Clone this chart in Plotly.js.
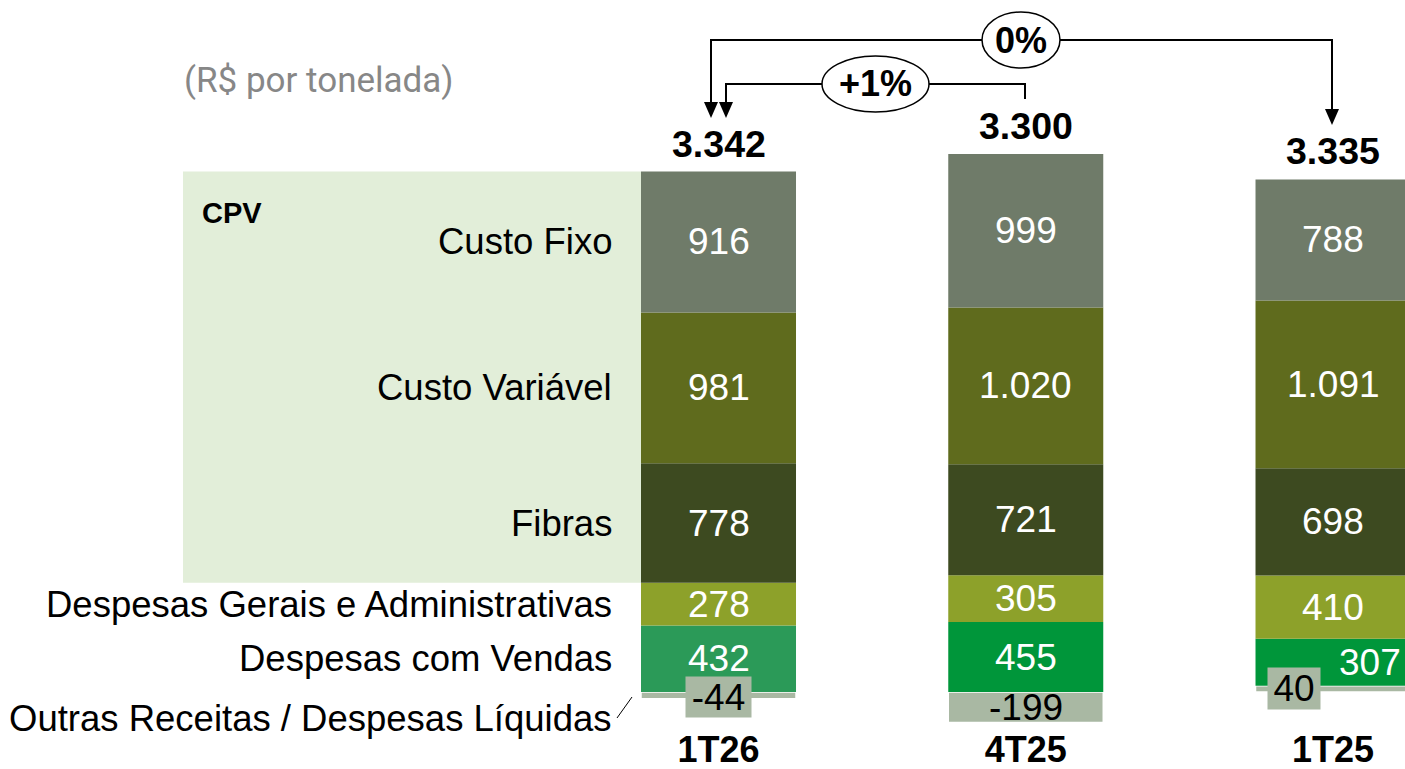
<!DOCTYPE html>
<html>
<head>
<meta charset="utf-8">
<script src="https://cdn.plot.ly/plotly-3.0.1.min.js"></script>
<style>html,body{margin:0;padding:0;background:#fff;} #chart{width:1405px;height:769px;}</style>
</head>
<body>
<div id="chart"></div>
<script>
// ---- data ----
const categories = ['1T26', '4T25', '1T25'];
const outras   = [-44, -199, 40];
const vendas   = [432, 455, 307];
const gerais   = [278, 305, 410];
const fibras   = [778, 721, 698];
const variavel = [981, 1020, 1091];
const fixo     = [916, 999, 788];
const totals   = [3342, 3300, 3335];
const seriesNames = ['Outras Receitas / Despesas Líquidas', 'Despesas com Vendas',
  'Despesas Gerais e Administrativas', 'Fibras', 'Custo Variável', 'Custo Fixo'];
const unitLabel = '(R$ por tonelada)';
const groupLabel = 'CPV';
const variations = [
  {from: 1, to: 0, text: '+1%'},
  {from: 2, to: 0, text: '0%'}
];

// ---- style ----
const W = 1405, H = 769, MB = 44, PH = H - MB;
const FONT = 'Liberation Sans, Arial, sans-serif';
const seriesValues = [outras, vendas, gerais, fibras, variavel, fixo];
const seriesColors = ['#a9b8a3', ['#2b9a58', '#00963a', '#00963a'], '#8da12a', '#3d4a20', '#5f6b1d', '#6f7b69'];
const labelShift = {'1,2': 37, '0,2': -39};
const boxSize = {'0,0': [65, 40, -2], '0,2': [52, 41, 0]};
const X = px => px / W;
const Y = py => 1 - py / PH;

function fmt(n) {
  const s = Math.abs(n).toString().replace(/\B(?=(\d{3})+(?!\d))/g, '.');
  return (n < 0 ? '-' : '') + s;
}

const traces = seriesValues.map((vals, i) => ({
  type: 'bar', x: categories, y: vals, name: seriesNames[i],
  marker: {color: seriesColors[i], line: {color: '#ffffff', width: i === 0 ? 1.5 : 0}},
  hoverinfo: 'skip', showlegend: false
}));

const annotations = [];
const posTop = categories.map(() => 0), negBot = categories.map(() => 0);
const centers = seriesValues.map(() => []);
seriesValues.forEach((vals, i) => {
  vals.forEach((v, j) => {
    let c;
    if (v >= 0) { c = posTop[j] + v / 2; posTop[j] += v; }
    else { c = negBot[j] + v / 2; negBot[j] += v; }
    centers[i][j] = c;
    const key = i + ',' + j;
    const box = boxSize[key];
    const a = {
      x: j, y: c, xref: 'x', yref: 'y', xanchor: 'center', yanchor: 'middle',
      text: fmt(v), showarrow: false,
      xshift: labelShift[key] || 0,
      font: {family: FONT, size: 37, color: i === 0 ? '#000' : '#fff'}
    };
    if (box) {
      a.bgcolor = seriesColors[0]; a.width = box[0]; a.height = box[1];
      a.yshift = box[2]; a.borderpad = 0;
    }
    annotations.push(a);
  });
});
// totals
totals.forEach((t, j) => annotations.push({
  x: j, y: posTop[j], xref: 'x', yref: 'y', xanchor: 'center', yanchor: 'bottom', yshift: 5,
  text: fmt(t), showarrow: false,
  font: {family: FONT, size: 37.5, color: '#000', weight: 700}
}));
// series labels (left), aligned with first bar
seriesNames.forEach((n, i) => annotations.push({
  x: X(614), xref: 'paper', xanchor: 'right', y: centers[i][0], yref: 'y', yanchor: 'middle',
  yshift: i === 0 ? -23 : 0, text: n, showarrow: false,
  font: {family: FONT, size: 36.5, color: '#000'}
}));
annotations.push({x: X(200), xref: 'paper', xanchor: 'left', y: Y(213), yref: 'paper', yanchor: 'middle',
  text: groupLabel, showarrow: false, font: {family: FONT, size: 29, color: '#000', weight: 700}});
annotations.push({x: X(182), xref: 'paper', xanchor: 'left', y: Y(80), yref: 'paper', yanchor: 'middle',
  text: unitLabel, showarrow: false, font: {family: 'Roboto, sans-serif', size: 35, color: '#878787'}});

// variation brackets
const shapes = [];
shapes.push({type: 'rect', xref: 'paper', yref: 'y', x0: X(183), x1: X(641),
  y0: vendas[0] + gerais[0] + Math.max(outras[0], 0), y1: posTop[0],
  fillcolor: '#e2eed9', line: {width: 0}, layer: 'below'});
const line = {color: '#000', width: 2};
function tri(x, tip) {
  return {type: 'path', xref: 'paper', yref: 'paper', fillcolor: '#000', line: {width: 0},
    path: `M ${X(x - 7)} ${Y(tip - 16)} L ${X(x + 7)} ${Y(tip - 16)} L ${X(x)} ${Y(tip)} Z`};
}
// outer bracket (0%)
shapes.push({type: 'path', xref: 'paper', yref: 'paper', line,
  path: `M ${X(711)} ${Y(103)} L ${X(711)} ${Y(40)} L ${X(1332)} ${Y(40)} L ${X(1332)} ${Y(110)}`});
shapes.push(tri(711, 118), tri(1332, 125));
// inner bracket (+1%)
shapes.push({type: 'path', xref: 'paper', yref: 'paper', line,
  path: `M ${X(726)} ${Y(103)} L ${X(726)} ${Y(84)} L ${X(1025)} ${Y(84)} L ${X(1025)} ${Y(99)}`});
shapes.push(tri(726, 118));
// ellipses
shapes.push({type: 'circle', xref: 'paper', yref: 'paper', x0: X(982), x1: X(1060), y0: Y(68), y1: Y(12),
  fillcolor: '#fff', line: {color: '#000', width: 1.5}});
shapes.push({type: 'circle', xref: 'paper', yref: 'paper', x0: X(822), x1: X(929), y0: Y(112), y1: Y(56),
  fillcolor: '#fff', line: {color: '#000', width: 1.5}});
// small leader line for Outras label
shapes.push({type: 'line', xref: 'paper', yref: 'paper', x0: X(617), y0: Y(718), x1: X(632), y1: Y(697),
  line: {color: '#000', width: 1}});
annotations.push({x: X(1021), y: Y(40), xref: 'paper', yref: 'paper', xanchor: 'center', yanchor: 'middle',
  text: variations[1].text, showarrow: false,
  font: {family: FONT, size: 36, color: '#000', weight: 700}});
annotations.push({x: X(875), y: Y(84), xref: 'paper', yref: 'paper', xanchor: 'center', yanchor: 'middle',
  text: variations[0].text, showarrow: false,
  font: {family: FONT, size: 36, color: '#000', weight: 700}});

const layout = {
  width: W, height: H, margin: {l: 0, r: 0, t: 0, b: MB},
  paper_bgcolor: '#fff', plot_bgcolor: 'rgba(0,0,0,0)',
  barmode: 'relative', bargap: 1 - 0.5045,
  xaxis: {type: 'category', range: [-2.3385, 2.2343], showgrid: false, zeroline: false, showline: false,
    ticks: '', tickfont: {family: FONT, size: 36, color: '#000', weight: 700}, fixedrange: true},
  yaxis: {range: [(692 - PH) / 0.15375, 692 / 0.15375], visible: false, fixedrange: true},
  shapes, annotations, showlegend: false
};
Plotly.newPlot('chart', traces, layout, {staticPlot: true});
</script>
</body>
</html>
